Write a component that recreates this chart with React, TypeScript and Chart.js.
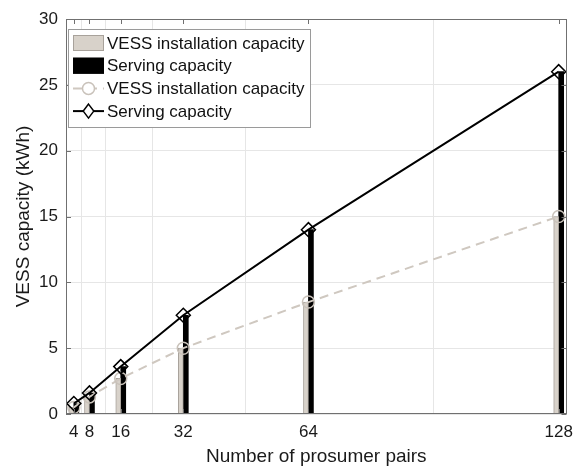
import React, { useEffect, useRef } from "react";
import { Chart, registerables } from "chart.js";

Chart.register(...registerables);

const pairs = [4, 8, 16, 32, 64, 128];
const installationCapacity = [0.5, 1.3, 2.7, 5.0, 8.5, 15.0];
const servingCapacity = [0.8, 1.6, 3.6, 7.5, 14.0, 26.0];
const xTickValues = [4, 8, 16, 32, 64, 128];
const yTickValues = [0, 5, 10, 15, 20, 25, 30];
const seriesLabels = ["VESS installation capacity", "Serving capacity"];

const FONT = "'Liberation Sans', Arial, Helvetica, sans-serif";
const INSTALL_FILL = "#d8d2ca";
const INSTALL_EDGE = "#a8a29b";
const INSTALL_LINE = "#cfc8c0";

const boxPlugin = {
  id: "matlabBox",
  afterDatasetsDraw(chart: any) {
    const { ctx, chartArea: a, scales } = chart;
    ctx.save();
    ctx.strokeStyle = "#707070";
    ctx.lineWidth = 1;
    ctx.strokeRect(Math.round(a.left) + 0.5, Math.round(a.top) + 0.5, Math.round(a.right - a.left) - 1, Math.round(a.bottom - a.top) - 1);
    const tl = 5;
    ctx.beginPath();
    xTickValues.forEach((v) => {
      const px = Math.round(scales.x.getPixelForValue(v)) + 0.5;
      ctx.moveTo(px, a.bottom);
      ctx.lineTo(px, a.bottom - tl);
      ctx.moveTo(px, a.top);
      ctx.lineTo(px, a.top + tl);
    });
    yTickValues.forEach((v) => {
      const py = Math.round(scales.y.getPixelForValue(v)) + 0.5;
      ctx.moveTo(a.left, py);
      ctx.lineTo(a.left + tl, py);
      ctx.moveTo(a.right, py);
      ctx.lineTo(a.right - tl, py);
    });
    ctx.stroke();
    ctx.restore();
  },
  afterDraw(chart: any) {
    const { ctx, chartArea: a } = chart;
    const bx = a.left + 2;
    const by = a.top + 10;
    const bw = 242;
    const bh = 98;
    ctx.save();
    ctx.fillStyle = "#ffffff";
    ctx.fillRect(bx, by, bw, bh);
    ctx.strokeStyle = "#9a9a9a";
    ctx.lineWidth = 1;
    ctx.strokeRect(Math.round(bx) + 0.5, Math.round(by) + 0.5, bw, bh);
    const sx = bx + 5;
    const sw = 31;
    const rowH = 22.7;
    const ds = chart.data.datasets;
    ds.forEach((d: any, i: number) => {
      const cy = by + 14 + i * rowH;
      if (d.type === "bar") {
        ctx.fillStyle = d.backgroundColor;
        ctx.fillRect(sx, cy - 8, sw, 16);
        ctx.strokeStyle = d.borderColor;
        ctx.lineWidth = 1;
        ctx.strokeRect(sx + 0.5, cy - 7.5, sw - 1, 15);
      } else {
        ctx.strokeStyle = d.borderColor;
        ctx.lineWidth = d.borderWidth;
        ctx.setLineDash(d.borderDash || []);
        ctx.beginPath();
        ctx.moveTo(sx, cy);
        ctx.lineTo(sx + sw, cy);
        ctx.stroke();
        ctx.setLineDash([]);
        const mx = sx + sw / 2;
        ctx.fillStyle = "#ffffff";
        ctx.strokeStyle = d.pointBorderColor;
        ctx.lineWidth = d.pointBorderWidth;
        ctx.beginPath();
        if (d.pointStyle === "rectRot") {
          const r = 7;
          ctx.moveTo(mx, cy - r);
          ctx.lineTo(mx + r * 0.75, cy);
          ctx.lineTo(mx, cy + r);
          ctx.lineTo(mx - r * 0.75, cy);
          ctx.closePath();
        } else {
          ctx.arc(mx, cy, 6, 0, Math.PI * 2);
        }
        ctx.fill();
        ctx.stroke();
      }
      ctx.fillStyle = "#111111";
      ctx.font = `17px ${FONT}`;
      ctx.textBaseline = "middle";
      ctx.textAlign = "left";
      ctx.fillText(d.label, sx + sw + 3, cy + 1);
    });
    ctx.restore();
  },
};

export default function App() {
  const ref = useRef<HTMLCanvasElement | null>(null);
  useEffect(() => {
    if (!ref.current) return;
    const chart = new Chart(ref.current, {
      type: "bar",
      data: {
        datasets: [
          {
            type: "bar",
            label: seriesLabels[0],
            data: pairs.map((x, i) => ({ x, y: installationCapacity[i] })),
            backgroundColor: INSTALL_FILL,
            borderColor: INSTALL_EDGE,
            borderWidth: 1,
            barThickness: 5,
            order: 3,
          },
          {
            type: "bar",
            label: seriesLabels[1],
            data: pairs.map((x, i) => ({ x, y: servingCapacity[i] })),
            backgroundColor: "#000000",
            borderColor: "#000000",
            borderWidth: 0,
            barThickness: 5,
            order: 3,
          },
          {
            type: "line",
            label: seriesLabels[0],
            data: pairs.map((x, i) => ({ x, y: installationCapacity[i] })),
            borderColor: INSTALL_LINE,
            borderWidth: 2,
            borderDash: [9, 6],
            pointStyle: "circle",
            pointRadius: 6,
            pointBorderColor: "#c9c2ba",
            pointBorderWidth: 1.5,
            pointBackgroundColor: "rgba(0,0,0,0)",
            order: 1,
          } as any,
          {
            type: "line",
            label: seriesLabels[1],
            data: pairs.map((x, i) => ({ x, y: servingCapacity[i] })),
            borderColor: "#000000",
            borderWidth: 2,
            pointStyle: "rectRot",
            pointRadius: 7,
            pointBorderColor: "#000000",
            pointBorderWidth: 1.5,
            pointBackgroundColor: "rgba(0,0,0,0)",
            order: 0,
          } as any,
        ],
      },
      options: {
        animation: false,
        responsive: false,
        maintainAspectRatio: false,
        layout: { padding: { left: 0, top: 19, right: 6, bottom: 0 } },
        plugins: {
          legend: { display: false },
          tooltip: { enabled: false },
        },
        scales: {
          x: {
            type: "linear",
            min: 2,
            max: 130,
            offset: false,
            afterBuildTicks: (scale: any) => {
              scale.ticks = xTickValues.map((v) => ({ value: v }));
            },
            afterFit: (scale: any) => {
              scale.height = 54;
              scale.paddingLeft = 0;
              scale.paddingRight = 0;
            },
            grid: { color: "#e6e6e6", drawTicks: false, lineWidth: 1 },
            border: { display: false },
            ticks: {
              autoSkip: false,
              maxRotation: 0,
              padding: 8,
              color: "#1a1a1a",
              font: { family: FONT, size: 17 },
            },
            title: {
              display: true,
              text: "Number of prosumer pairs",
              color: "#1a1a1a",
              font: { family: FONT, size: 19 },
              padding: { top: 0, bottom: 0 },
            },
          },
          y: {
            type: "linear",
            min: 0,
            max: 30,
            afterBuildTicks: (scale: any) => {
              scale.ticks = yTickValues.map((v) => ({ value: v }));
            },
            afterFit: (scale: any) => {
              scale.width = 66;
              scale.paddingTop = 0;
              scale.paddingBottom = 0;
            },
            grid: { color: "#e6e6e6", drawTicks: false, lineWidth: 1 },
            border: { display: false },
            ticks: {
              padding: 8,
              color: "#1a1a1a",
              font: { family: FONT, size: 17 },
            },
            title: {
              display: true,
              text: "VESS capacity (kWh)",
              color: "#1a1a1a",
              font: { family: FONT, size: 19 },
              padding: { top: 12, bottom: 0 },
            },
          },
        },
      },
      plugins: [boxPlugin],
    } as any);
    return () => chart.destroy();
  }, []);
  return (
    <div style={{ position: "absolute", left: 0, top: 0, width: 575, height: 468, background: "#ffffff" }}>
      <canvas ref={ref} width={575} height={468} style={{ width: 575, height: 468, display: "block" }} />
    </div>
  );
}
